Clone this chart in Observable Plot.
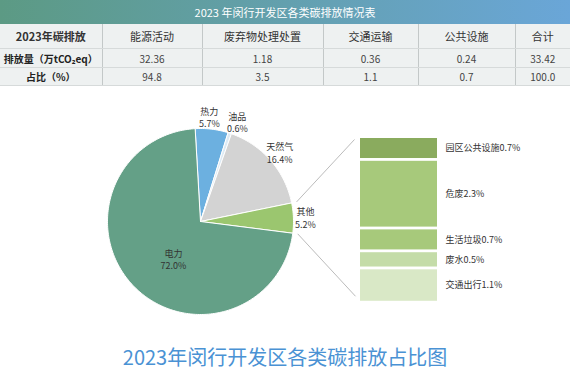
<!DOCTYPE html>
<html><head><meta charset="utf-8">
<script src="https://cdn.jsdelivr.net/npm/d3@7"></script>
<script src="https://cdn.jsdelivr.net/npm/@observablehq/plot@0.6"></script>
<style>
body{margin:0;width:570px;height:370px;overflow:hidden;background:#fff;font-family:"Noto Sans CJK SC","Noto Sans",sans-serif;position:relative}
#hdr{position:absolute;left:0;top:0;width:570px;height:24px;background:linear-gradient(90deg,#5c9a84,#6aa6d8);color:#fff;font-size:11px;line-height:24px;text-align:center}
#tbl{position:absolute;left:0;top:24px;width:570px;border-collapse:collapse;background:#eef1f1;table-layout:fixed}
#tbl td{text-align:center;padding:0;border-left:1px solid #c3c8c8;border-bottom:1px solid #d6dada;color:#444;font-size:10px;white-space:nowrap;overflow:hidden}
#tbl td:first-child{border-left:none;font-weight:bold;color:#222}
#tbl tr.h td{font-size:11px;color:#333;height:24px}
#tbl tr.h td:first-child{font-size:11px}
#tbl tr.r1 td{height:18px}
#tbl tr.r2 td{height:17px}
#chart{position:absolute;left:0;top:90px}
#title{position:absolute;left:0;top:343px;width:570px;height:27px;line-height:27px;text-align:center;color:#4a92d4;font-size:20px}
</style>
</head><body>
<div id="hdr"></div>
<table id="tbl"></table>
<div id="chart"></div>
<div id="title"></div>
<script>
// ---- data ----
const tableTitle = "2023 年闵行开发区各类碳排放情况表";
const headerCols = ["2023年碳排放","能源活动","废弃物处理处置","交通运输","公共设施","合计"];
const colWidths = [102,100,121,95,97,55];
const rowLabels = ["排放量（万tCO₂eq）","占比（%）"];
const emissions = ["32.36","1.18","0.36","0.24","33.42"];
const shares = ["94.8","3.5","1.1","0.7","100.0"];

const pieNames = ["热力","油品","天然气","其他","电力"];
const pieValues = [5.7,0.6,16.4,5.2,72.0];
const pieColors = ["#6cb0e0","#dceaf4","#d3d3d3","#9bc66f","#64a087"];

const subNames = ["园区公共设施","危废","生活垃圾","废水","交通出行"];
const subValues = [0.7,2.3,0.7,0.5,1.1];
const subColors = ["#8aab5e","#a7c97b","#a7c97b","#c4dca8","#d9e8c6"];

const chartTitle = "2023年闵行开发区各类碳排放占比图";

// ---- table ----
document.getElementById("hdr").textContent = tableTitle;
const tbl = document.getElementById("tbl");
const cg = document.createElement("colgroup");
colWidths.forEach(w => { const c = document.createElement("col"); c.style.width = w + "px"; cg.appendChild(c); });
tbl.appendChild(cg);
function addRow(cls, cells) {
  const tr = document.createElement("tr"); tr.className = cls;
  cells.forEach(t => { const td = document.createElement("td"); td.textContent = t; tr.appendChild(td); });
  tbl.appendChild(tr);
}
addRow("h", headerCols);
addRow("r1", [rowLabels[0], ...emissions]);
addRow("r2", [rowLabels[1], ...shares]);
document.getElementById("title").textContent = chartTitle;

// ---- chart geometry ----
const W = 570, H = 245;
const cx = 200, cy = 131, R = 93;
const start = -3.3 * Math.PI / 180;
const total = d3.sum(pieValues);
let a = start;
const slices = pieNames.map((name, i) => {
  const a0 = a, a1 = a + pieValues[i] / total * 2 * Math.PI;
  a = a1;
  const n = Math.max(4, Math.ceil((a1 - a0) / 0.02));
  const pts = [{x: cx, y: cy}];
  for (let k = 0; k <= n; k++) {
    const t = a0 + (a1 - a0) * k / n;
    pts.push({x: cx + R * Math.sin(t), y: cy - R * Math.cos(t)});
  }
  pts.push({x: cx, y: cy});
  return {name, value: pieValues[i], color: pieColors[i], a0, a1, pts};
});
const labelPos = slices.map((s, i) => {
  const inside = s.value > 50;
  const mid = inside ? (s.a0 + s.a1) / 2 - 0.2 : (s.a0 + s.a1) / 2;
  const rr = inside ? R * 0.5 : R + 12;
  return {inside, x: cx + rr * Math.sin(mid), y: cy - rr * Math.cos(mid), text: `${s.name}\n${s.value.toFixed(1)}%`};
});
// spread neighbouring outside labels that would overlap horizontally
const outs = labelPos.filter(d => !d.inside);
for (let i = 1; i < outs.length; i++) {
  const p = outs[i - 1], q = outs[i];
  const need = 28 - (q.x - p.x);
  if (need > 0 && Math.abs(q.y - p.y) < 24) { p.x -= need / 2; q.x += need / 2; }
}

// breakdown bar
const bx0 = 360, bx1 = 437, barTop = 48, kPx = 28.6, gap = 2.8;
let yy = barTop;
const segs = subNames.map((name, i) => {
  const y1 = yy, y2 = yy + subValues[i] * kPx;
  yy = y2 + gap;
  return {name, value: subValues[i], color: subColors[i], y1, y2};
});
const barBottom = segs[segs.length - 1].y2;
const other = slices[3];
const links = [
  {x1: cx + (R + 5) * Math.sin(other.a0), y1: cy - (R + 5) * Math.cos(other.a0), x2: bx0 - 6, y2: barTop + 1},
  {x1: cx + (R + 5) * Math.sin(other.a1), y1: cy - (R + 5) * Math.cos(other.a1), x2: bx0 - 5, y2: barBottom - 5}
];

const plot = Plot.plot({
  width: W, height: H,
  margin: 0,
  x: {domain: [0, W], range: [0, W], axis: null},
  y: {domain: [0, H], range: [0, H], axis: null},
  style: {fontFamily: '"Noto Sans CJK SC","Noto Sans",sans-serif', background: "transparent"},
  marks: [
    ...slices.map(s => Plot.line(s.pts, {x: "x", y: "y", fill: s.color, stroke: "white", strokeWidth: 1})),
    Plot.text(labelPos, {x: "x", y: "y", text: "text", fontSize: 9, fill: "#333", lineHeight: 1.35}),
    Plot.link(links, {x1: "x1", y1: "y1", x2: "x2", y2: "y2", stroke: "#aaa", strokeWidth: 0.8}),
    Plot.rect(segs, {x1: bx0, x2: bx1, y1: "y1", y2: "y2", fill: d => d.color}),
    Plot.text(segs, {x: bx1 + 8, y: d => (d.y1 + d.y2) / 2, text: d => `${d.name}${d.value}%`, textAnchor: "start", fontSize: 9, fill: "#333"})
  ]
});
document.getElementById("chart").appendChild(plot);
</script>
</body></html>
